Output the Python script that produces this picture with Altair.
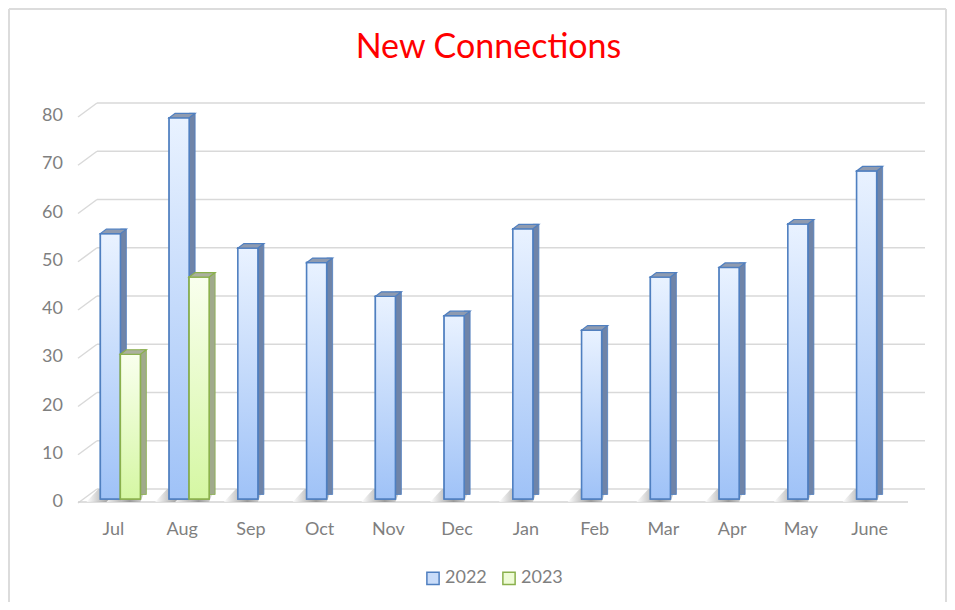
import altair as alt
import pandas as pd

months = ["Jul", "Aug", "Sep", "Oct", "Nov", "Dec", "Jan", "Feb", "Mar", "Apr", "May", "June"]
v2022 = [55, 79, 52, 49, 42, 38, 56, 35, 46, 48, 57, 68]
v2023 = [30, 46]
series = ["2022", "2023"]
tick_values = [0, 10, 20, 30, 40, 50, 60, 70, 80]
title_text = ["New Connections"]

W, H = 825, 386

df22 = pd.DataFrame({"month": months, "value": v2022, "series": series[0]})
df23 = pd.DataFrame({"month": months[:len(v2023)], "value": v2023, "series": series[1]})
df_ticks = pd.DataFrame({"value": tick_values, "label": [str(t) for t in tick_values]})
df_months = pd.DataFrame({"month": months})
df_title = pd.DataFrame({"text": title_text})

FONT = "Lato"
LABEL = "#7f7f7f"
BORDER = "#dcdcdc"

xsc = alt.Scale(domain=months, paddingInner=0, paddingOuter=0)
ysc = alt.Scale(domain=[0, 80], nice=False, zero=True)

X = alt.X("month:N", scale=xsc, sort=months, axis=None)
Y = alt.Y("value:Q", scale=ysc, axis=None)
Y0 = alt.Y("zero:Q", scale=ysc, axis=None)

# outer frame
frame_left = alt.Chart(df_title).mark_rule(color=BORDER, strokeWidth=2).encode(
    x=alt.value(-77), y=alt.value(-104), y2=alt.value(H + 103))
frame_top = alt.Chart(df_title).mark_rule(color=BORDER, strokeWidth=2).encode(
    x=alt.value(-77), x2=alt.value(W + 35), y=alt.value(-104))
frame_right = alt.Chart(df_title).mark_rule(color=BORDER, strokeWidth=2).encode(
    x=alt.value(W + 35), y=alt.value(-104), y2=alt.value(H + 103))

# back gridlines + slanted stubs (3-D look)
grid = alt.Chart(df_ticks).mark_rule(color="#d9d9d9", strokeWidth=1.5, yOffset=-10).encode(
    y=Y, x=alt.value(11), x2=alt.value(W + 14))
stubs = alt.Chart(df_ticks).mark_rule(color="#d9d9d9", strokeWidth=1.5, yOffset=4, y2Offset=-10).encode(
    y=Y, y2="value:Q", x=alt.value(-8), x2=alt.value(11))
floor = alt.Chart(df_ticks).transform_filter("datum.value == 0").mark_rule(
    color="#d3d3d3", strokeWidth=1.5, yOffset=3).encode(
    y=Y, x=alt.value(-8), x2=alt.value(W - 3))

# axis labels
ylab = alt.Chart(df_ticks).mark_text(align="right", baseline="middle", fontSize=18, font=FONT,
                                     color=LABEL, dy=3).encode(
    y=Y, x=alt.value(-23), text="label:N")
xlab = alt.Chart(df_months).mark_text(align="center", baseline="middle", fontSize=18, font=FONT,
                                      color=LABEL, dx=-7).encode(
    x=X, y=alt.value(H + 31), text="month:N")

shadow_grad = alt.Gradient(gradient="linear", x1=0, x2=1, y1=0, y2=0,
                           stops=[alt.GradientStop(color="#ffffff", offset=0),
                                  alt.GradientStop(color="#8c8c8c", offset=0.6),
                                  alt.GradientStop(color="#d6d6d6", offset=1)])
SHADOW_PATH = "M -2.4 0.3 L 1.0 0.3 L 1.5 -1.0 L -1.2 -1.0 Z"


def shadow(df, off):
    return alt.Chart(df).transform_calculate(zero="0").mark_point(
        shape=SHADOW_PATH, size=400, filled=True, opacity=0.85, fill=shadow_grad,
        strokeWidth=0, xOffset=off).encode(x=X, y=Y0)


TOP_PATH = "M -1 0 L 1 0 L 1.6 -0.45 L -0.4 -0.45 Z"

fill_scale = alt.Scale(domain=series, range=["#c9dcf9", "#eefbd6"])
stroke_scale = alt.Scale(domain=series, range=["#4f7fc0", "#8ab04c"])
LEG = alt.Legend(title=None, orient="none", legendX=338, legendY=456, direction="horizontal")


def bar_layers(df, off, grad_top, grad_bot, stroke, side, top):
    grad = alt.Gradient(gradient="linear", x1=0, x2=0, y1=0, y2=1,
                        stops=[alt.GradientStop(color=grad_top, offset=0),
                               alt.GradientStop(color=grad_bot, offset=1)])
    side_l = alt.Chart(df).mark_bar(width=6, xOffset=off + 13, yOffset=-4.5, fill=side,
                                    stroke=stroke, strokeWidth=0.8).encode(x=X, y=Y)
    base = alt.Chart(df).mark_bar(width=20, xOffset=off, strokeWidth=1.5).encode(
        x=X, y=Y,
        fill=alt.Fill("series:N", scale=fill_scale, legend=LEG),
        stroke=alt.Stroke("series:N", scale=stroke_scale, legend=LEG))
    front = alt.Chart(df).mark_bar(width=20, xOffset=off, fill=grad, stroke=stroke,
                                   strokeWidth=1.5).encode(x=X, y=Y)
    top_l = alt.Chart(df).mark_point(shape=TOP_PATH, size=400, filled=True, opacity=1,
                                     fill=top, stroke=stroke, strokeWidth=1.2,
                                     xOffset=off).encode(x=X, y=Y)
    return [side_l, base, front, top_l]


title_l = alt.Chart(df_title).mark_text(color="#ff0000", fontSize=34, font=FONT,
                                        align="center", baseline="alphabetic").encode(
    text="text:N", x=alt.value(W / 2 - 10), y=alt.value(-55))

layers = [frame_left, frame_top, frame_right, grid, stubs, floor,
          shadow(df22, -10), shadow(df23, 10)]
layers += bar_layers(df22, -10, "#e9f2ff", "#9fc2f7", "#4f7fc0", "#6f84a8", "#8f9bb0")
layers += bar_layers(df23, 10, "#f9ffee", "#d5f7a3", "#8ab04c", "#a0aa8c", "#abb09e")
layers += [ylab, xlab, title_l]

chart = alt.layer(*layers).properties(
    width=W, height=H,
    autosize=alt.AutoSizeParams(type="none"),
    padding={"left": 78, "top": 105, "right": 36, "bottom": 103},
).configure(background="white").configure_view(stroke=None).configure_legend(
    symbolType="square", symbolSize=150, symbolStrokeWidth=1.5,
    labelFontSize=18, labelColor=LABEL, labelFont=FONT, columnPadding=12, labelOffset=3
)

chart.save("out.html", embed_options={"renderer": "svg", "actions": False})
